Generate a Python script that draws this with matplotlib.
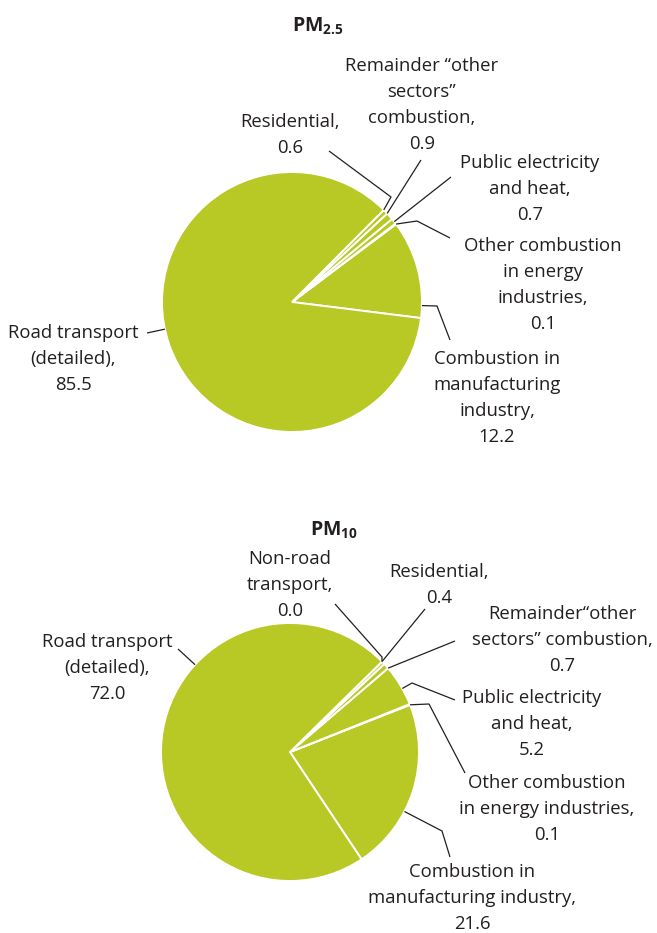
import numpy as np
import matplotlib.pyplot as plt

plt.rcParams['font.family'] = ['Open Sans', 'DejaVu Sans']
plt.rcParams['mathtext.fontset'] = 'custom'
plt.rcParams['mathtext.rm'] = 'Open Sans'
plt.rcParams['mathtext.bf'] = 'Open Sans:bold'

W, H = 657, 933
GREEN = '#b8c825'
INK = '#231f20'

# data, counter-clockwise order starting from the manufacturing wedge
pm25_names = ['Combustion in\nmanufacturing\nindustry,',
              'Other combustion\nin energy\nindustries,',
              'Public electricity\nand heat,',
              'Remainder \u201cother\nsectors\u201d\ncombustion,',
              'Residential,',
              'Road transport\n(detailed),']
pm25_values = [12.2, 0.1, 0.7, 0.9, 0.6, 85.5]

pm10_names = ['Combustion in\nmanufacturing industry,',
              'Other combustion\nin energy industries,',
              'Public electricity\nand heat,',
              'Remainder\u201cother\nsectors\u201d combustion,',
              'Residential,',
              'Non-road\ntransport,',
              'Road transport\n(detailed),']
pm10_values = [21.6, 0.1, 5.2, 0.7, 0.4, 0.0, 72.0]

# layout (pixel positions, y from top)
pm25_layout = dict(center=(292, 302), radius=130, start=-7.1, title=(318, 26),
                   text=[(497, 398), (543, 285), (530, 189), (422, 105), (290, 135), (73, 359)],
                   elbow=[(437, 306), (417, 221), None, None, (391, 197), None],
                   end=[(450, 340), (450, 238), (451, 177), (421, 160), (329, 151), (147, 333)])
pm10_layout = dict(center=(290, 752), radius=129, start=-56.3, title=(334, 530),
                   text=[(472, 898), (547, 809), (532, 724), (562, 640), (439, 585), (290, 585), (107, 668)],
                   elbow=[(442, 831), (429, 704), (412, 683), None, None, (382, 657), None],
                   end=[(450, 857), (465, 773), (455, 700), (455, 641), (425, 609), (335, 604), (178, 649)])

fig = plt.figure(figsize=(W / 100, H / 100), dpi=100)
ax = fig.add_axes([0, 0, 1, 1])


def draw(names, values, lay, sub):
    cx, cy = lay['center'][0], H - lay['center'][1]
    r = lay['radius']
    wedges, _ = ax.pie(values, colors=[GREEN] * len(values), startangle=lay['start'],
                       counterclock=True, center=(cx, cy), radius=r,
                       wedgeprops=dict(edgecolor='white', linewidth=1.4))
    for w, name, val, (tx, ty), elb, end in zip(wedges, names, values,
                                                 lay['text'], lay['elbow'], lay['end']):
        first = elb if elb is not None else end
        # anchor on the wedge's arc, as close as possible to the leader's direction
        a = np.degrees(np.arctan2((H - first[1]) - cy, first[0] - cx))
        while a < w.theta1:
            a += 360
        while a > w.theta1 + 360:
            a -= 360
        if a > w.theta2:
            a = w.theta2 if a - w.theta2 < w.theta1 + 360 - a else w.theta1
        ang = np.deg2rad(a)
        pts = [(cx + r * np.cos(ang), cy + r * np.sin(ang))]
        if elb is not None:
            pts.append((elb[0], H - elb[1]))
        pts.append((end[0], H - end[1]))
        xs, ys = zip(*pts)
        ax.plot(xs, ys, color=INK, lw=0.9, solid_capstyle='butt')
        ax.text(tx, H - ty, f'{name}\n{val:.1f}', ha='center', va='center',
                fontsize=13.3, color=INK, linespacing=1.58, multialignment='center')
    ax.text(lay['title'][0], H - lay['title'][1], r'$\mathbf{PM}_{\mathbf{' + sub + '}}$',
            ha='center', va='center', fontsize=14, color=INK)


draw(pm25_names, pm25_values, pm25_layout, '2.5')
draw(pm10_names, pm10_values, pm10_layout, '10')

ax.set_xlim(0, W)
ax.set_ylim(0, H)
ax.set_aspect('equal')
ax.axis('off')

fig.savefig('out.png', dpi=100)
